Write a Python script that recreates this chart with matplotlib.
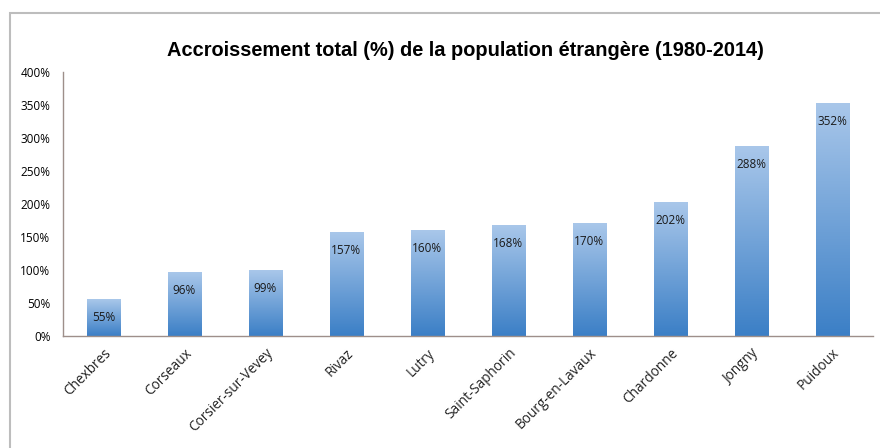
import numpy as np
import matplotlib.pyplot as plt
from matplotlib.colors import LinearSegmentedColormap
from matplotlib.patches import Rectangle

communes = ['Chexbres', 'Corseaux', 'Corsier-sur-Vevey', 'Rivaz', 'Lutry',
            'Saint-Saphorin', 'Bourg-en-Lavaux', 'Chardonne', 'Jongny', 'Puidoux']
accroissement = [55, 96, 99, 157, 160, 168, 170, 202, 288, 352]
yticks = [0, 50, 100, 150, 200, 250, 300, 350, 400]

fig = plt.figure(figsize=(8.8, 4.48), dpi=100)
ax = fig.add_axes([0.0716, 0.25, 0.92, 0.589])

# cadre gris autour du graphique
fig.patches.append(Rectangle((10 / 880, -0.01), 1.0, 1 - 13 / 448 + 0.01,
                             transform=fig.transFigure, fill=False,
                             edgecolor='#bdbdbd', linewidth=1.5))

degrade = LinearSegmentedColormap.from_list('bleu', ['#3b7fc6', '#a9c7ea'])
grad = np.linspace(0, 1, 256).reshape(-1, 1)

x = np.arange(len(communes))
largeur = 0.41
bars = ax.bar(x, accroissement, width=largeur, color='none', edgecolor='none')
for b, v in zip(bars, accroissement):
    x0 = b.get_x()
    ax.imshow(grad, cmap=degrade, origin='lower', aspect='auto',
              extent=(x0, x0 + largeur, 0, v), zorder=2)
    ax.annotate(f'{v}%', (b.get_x() + largeur / 2, v), xytext=(0, -13),
                textcoords='offset points', ha='center', va='center',
                fontsize=8.5, family='Open Sans', color='#1a1a1a', zorder=3)

ax.set_xlim(-0.5, len(communes) - 0.5)
ax.set_ylim(0, 400)
ax.set_yticks(yticks)
ax.set_yticklabels([f'{t}%' for t in yticks], family='Open Sans', fontsize=8.5)
ax.set_xticks(x)
ax.set_xticklabels(communes, rotation=45, ha='right', rotation_mode='anchor',
                   family='Open Sans', fontsize=9.8, color='#222222')
ax.tick_params(axis='y', length=0, pad=9)
ax.tick_params(axis='x', length=0, pad=7)

for side in ['top', 'right']:
    ax.spines[side].set_visible(False)
for side in ['left', 'bottom']:
    ax.spines[side].set_color('#9e8f8a')
    ax.spines[side].set_linewidth(1.0)

fig.text(0.529, 0.888, 'Accroissement total (%) de la population étrangère (1980-2014)',
         ha='center', va='center', fontsize=14.4, fontweight='bold',
         family='Liberation Sans')

fig.savefig('out.png', dpi=100)
